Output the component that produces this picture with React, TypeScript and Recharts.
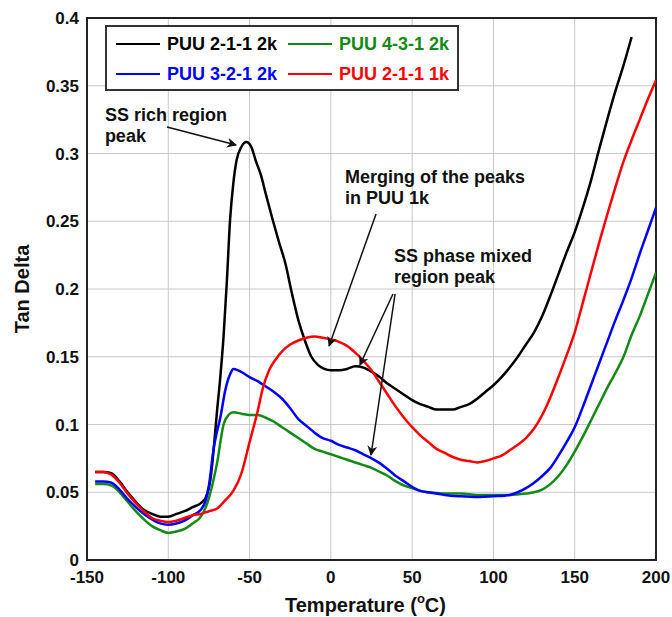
import {
  LineChart,
  Line,
  XAxis,
  YAxis,
  CartesianGrid,
  ReferenceLine,
  ReferenceDot,
  ReferenceArea,
} from 'recharts';

// temperature (°C) and tan delta for each sample
const puu211_2kT = [-145, -140, -135, -130, -125, -120, -115, -110, -105, -100, -95, -90, -85, -80, -77, -74, -72, -70, -68, -66, -64, -62, -60, -58, -55, -52, -49, -46, -43, -40, -36, -32, -28, -24, -20, -16, -12, -8, -4, 0, 5, 10, 15, 20, 25, 30, 35, 40, 45, 50, 55, 60, 65, 70, 75, 80, 85, 90, 95, 100, 105, 110, 115, 120, 125, 130, 135, 140, 145, 150, 155, 160, 165, 170, 175, 180, 185];
const puu211_2kV = [0.065, 0.065, 0.064, 0.058, 0.05, 0.043, 0.037, 0.034, 0.032, 0.032, 0.034, 0.036, 0.039, 0.042, 0.046, 0.06, 0.083, 0.11, 0.135, 0.165, 0.205, 0.251, 0.278, 0.295, 0.305, 0.3085, 0.305, 0.294, 0.284, 0.27, 0.252, 0.235, 0.219, 0.197, 0.177, 0.162, 0.15, 0.144, 0.141, 0.14, 0.14, 0.141, 0.143, 0.142, 0.139, 0.135, 0.13, 0.126, 0.122, 0.118, 0.115, 0.113, 0.111, 0.111, 0.111, 0.113, 0.115, 0.119, 0.124, 0.129, 0.135, 0.142, 0.15, 0.159, 0.168, 0.18, 0.195, 0.211, 0.227, 0.242, 0.26, 0.28, 0.303, 0.325, 0.346, 0.365, 0.386];

const puu211_1kT = [-145, -140, -135, -130, -125, -120, -115, -110, -105, -100, -95, -90, -85, -80, -75, -70, -65, -60, -55, -50, -45, -42, -38, -34, -30, -25, -20, -15, -10, -5, 0, 5, 10, 15, 20, 25, 30, 35, 40, 45, 50, 55, 60, 65, 70, 75, 80, 85, 90, 95, 100, 105, 110, 115, 120, 125, 130, 135, 140, 145, 150, 155, 160, 165, 170, 175, 180, 185, 190, 195, 200];
const puu211_1kV = [0.065, 0.065, 0.063, 0.057, 0.049, 0.042, 0.036, 0.031, 0.029, 0.028, 0.029, 0.031, 0.033, 0.034, 0.036, 0.038, 0.044, 0.051, 0.064, 0.087, 0.11, 0.126, 0.14, 0.148, 0.154, 0.159, 0.162, 0.164, 0.165, 0.164, 0.163, 0.161, 0.158, 0.153, 0.147, 0.14, 0.131, 0.122, 0.113, 0.105, 0.098, 0.092, 0.087, 0.082, 0.079, 0.076, 0.074, 0.073, 0.072, 0.073, 0.075, 0.077, 0.081, 0.085, 0.09, 0.097, 0.107, 0.12, 0.135, 0.151, 0.168, 0.19, 0.212, 0.234, 0.255, 0.275, 0.294, 0.31, 0.325, 0.34, 0.354];

const puu321_2kT = [-145, -140, -135, -130, -125, -120, -115, -110, -105, -100, -95, -90, -85, -80, -77, -75, -72, -70, -68, -65, -62, -60, -57, -54, -50, -45, -40, -35, -30, -25, -20, -15, -10, -5, 0, 5, 10, 15, 20, 25, 30, 35, 40, 45, 50, 55, 60, 65, 70, 80, 90, 100, 110, 115, 120, 125, 130, 135, 140, 145, 150, 155, 160, 165, 170, 175, 180, 185, 190, 195, 200];
const puu321_2kV = [0.058, 0.058, 0.057, 0.052, 0.045, 0.039, 0.034, 0.03, 0.027, 0.026, 0.027, 0.029, 0.033, 0.037, 0.044, 0.055, 0.083, 0.095, 0.105, 0.125, 0.137, 0.141, 0.14, 0.138, 0.135, 0.132, 0.128, 0.124, 0.119, 0.112, 0.104, 0.099, 0.094, 0.09, 0.088, 0.085, 0.083, 0.081, 0.078, 0.075, 0.0715, 0.067, 0.062, 0.058, 0.054, 0.051, 0.05, 0.049, 0.048, 0.047, 0.0465, 0.047, 0.048, 0.05, 0.053, 0.057, 0.062, 0.068, 0.077, 0.087, 0.098, 0.113, 0.129, 0.145, 0.161, 0.177, 0.192, 0.208, 0.226, 0.243, 0.26];

const puu431_2kT = [-145, -140, -135, -130, -125, -120, -115, -110, -105, -100, -95, -90, -85, -80, -76, -73, -70, -66, -63, -60, -55, -50, -45, -40, -35, -30, -25, -20, -15, -10, -5, 0, 5, 10, 15, 20, 25, 30, 35, 40, 45, 50, 55, 60, 65, 70, 80, 90, 100, 110, 120, 125, 130, 135, 140, 145, 150, 155, 160, 165, 170, 175, 180, 185, 190, 195, 200];
const puu431_2kV = [0.056, 0.056, 0.055, 0.05, 0.043, 0.036, 0.03, 0.025, 0.022, 0.02, 0.021, 0.023, 0.027, 0.032, 0.042, 0.055, 0.0715, 0.1, 0.107, 0.109, 0.108, 0.107, 0.107, 0.105, 0.102, 0.098, 0.094, 0.09, 0.086, 0.082, 0.08, 0.078, 0.076, 0.074, 0.072, 0.07, 0.068, 0.065, 0.062, 0.058, 0.055, 0.053, 0.051, 0.05, 0.0495, 0.049, 0.049, 0.048, 0.048, 0.048, 0.049, 0.05, 0.052, 0.056, 0.062, 0.07, 0.08, 0.091, 0.103, 0.115, 0.127, 0.138, 0.15, 0.166, 0.18, 0.196, 0.212];

const xTicks = [-150, -100, -50, 0, 50, 100, 150, 200];
const yTicks = [0, 0.05, 0.1, 0.15, 0.2, 0.25, 0.3, 0.35, 0.4];

const toPoints = (t: number[], v: number[]) => t.map((x, i) => ({ x, y: v[i] }));

const series = [
  { name: 'PUU 2-1-1 2k', color: '#000000', data: toPoints(puu211_2kT, puu211_2kV) },
  { name: 'PUU 4-3-1 2k', color: '#138a13', data: toPoints(puu431_2kT, puu431_2kV) },
  { name: 'PUU 3-2-1 2k', color: '#0000ff', data: toPoints(puu321_2kT, puu321_2kV) },
  { name: 'PUU 2-1-1 1k', color: '#ff0000', data: toPoints(puu211_1kT, puu211_1kV) },
];

// annotation text anchors and arrows, in data units
const notes = [
  { x: -139, y: 0.324, lines: ['SS rich region', 'peak'] },
  { x: 8.7, y: 0.278, lines: ['Merging of the peaks', 'in PUU 1k'] },
  { x: 38.8, y: 0.22, lines: ['SS phase mixed', 'region peak'] },
];
const arrows = [
  { from: [-100.8, 0.3196], to: [-58.3, 0.3063] },
  { from: [27.8, 0.2554], to: [-1.1, 0.158] },
  { from: [38.2, 0.1963], to: [17.9, 0.1439] },
  { from: [39.5, 0.1963], to: [24.7, 0.0775] },
];

const FONT = '"Liberation Sans", Arial, sans-serif';

const noteContent = (lines: string[]) => (props: any) => {
  const { viewBox } = props;
  return (
    <text x={viewBox.x} y={viewBox.y} fontFamily={FONT} fontWeight="bold" fontSize={18} fill="#111">
      {lines.map((l, i) => (
        <tspan key={i} x={viewBox.x} dy={i === 0 ? 0 : 21}>
          {l}
        </tspan>
      ))}
    </text>
  );
};

const xLabel = (props: any) => {
  const { viewBox } = props;
  return (
    <text
      x={viewBox.x + viewBox.width / 2 - 6}
      y={viewBox.y + 52}
      textAnchor="middle"
      fontFamily={FONT}
      fontWeight="bold"
      fontSize={20}
      fill="#111"
    >
      Temperature (
      <tspan fontSize={13} dy={-9}>o</tspan>
      <tspan dy={9}>C)</tspan>
    </text>
  );
};

const yLabel = (props: any) => {
  const { viewBox } = props;
  const cx = viewBox.x + 22;
  const cy = viewBox.y + viewBox.height / 2;
  return (
    <text
      x={cx}
      y={cy}
      transform={`rotate(-90, ${cx}, ${cy})`}
      textAnchor="middle"
      dominantBaseline="central"
      fontFamily={FONT}
      fontWeight="bold"
      fontSize={20}
      fill="#111"
    >
      Tan Delta
    </text>
  );
};

const tickStyle = { fontFamily: FONT, fontWeight: 'bold', fontSize: 17, fill: '#111' };

export default function App() {
  return (
    <div style={{ position: 'absolute', left: 0, top: 0, width: 672, height: 617, background: '#fff' }}>
      <svg width={0} height={0} style={{ position: 'absolute' }}>
        <defs>
          <marker
            id="arrowHead"
            viewBox="0 0 10 10"
            refX={9}
            refY={5}
            markerWidth={14}
            markerHeight={10}
            markerUnits="userSpaceOnUse"
            orient="auto"
          >
            <path d="M0,0 L10,5 L0,10 L3,5 z" fill="#111" />
          </marker>
        </defs>
      </svg>
      <LineChart width={672} height={617} margin={{ top: 18, right: 16, bottom: 0, left: 0 }}>
        <CartesianGrid stroke="#c8c8c8" strokeWidth={1} />
        <XAxis
          type="number"
          dataKey="x"
          domain={[-150, 200]}
          ticks={xTicks}
          interval={0}
          height={57}
          tick={tickStyle}
          tickLine={false}
          axisLine={false}
          tickMargin={5}
          label={{ content: xLabel }}
          allowDataOverflow
        />
        <YAxis
          type="number"
          domain={[0, 0.4]}
          ticks={yTicks}
          interval={0}
          width={87}
          tick={tickStyle}
          tickLine={false}
          axisLine={false}
          label={{ content: yLabel }}
          allowDataOverflow
        />
        {series.map((s) => (
          <Line
            key={s.name}
            data={s.data}
            dataKey="y"
            name={s.name}
            type="monotone"
            stroke={s.color}
            strokeWidth={2.5}
            dot={false}
            activeDot={false}
            isAnimationActive={false}
          />
        ))}
        {arrows.map((a, i) => (
          <ReferenceLine
            key={i}
            segment={[
              { x: a.from[0], y: a.from[1] },
              { x: a.to[0], y: a.to[1] },
            ]}
            stroke="#111"
            strokeWidth={1.5}
            markerEnd="url(#arrowHead)"
          />
        ))}
        {notes.map((n, i) => (
          <ReferenceDot
            key={i}
            x={n.x}
            y={n.y}
            r={0}
            stroke="none"
            fill="none"
            label={{ content: noteContent(n.lines) }}
          />
        ))}
        <ReferenceArea x1={-150} x2={200} y1={0} y2={0.4} fill="none" stroke="#222" strokeWidth={2} />
      </LineChart>
      <div
        style={{
          position: 'absolute',
          left: 105,
          top: 25,
          width: 350,
          height: 62,
          border: '2px solid #333',
          background: '#fff',
          fontFamily: FONT,
          fontWeight: 'bold',
          fontSize: 18,
        }}
      >
        {series.map((s, i) => {
          const col = i % 2;
          const row = Math.floor(i / 2);
          return (
            <div
              key={s.name}
              style={{
                position: 'absolute',
                left: col === 0 ? 9 : 181,
                top: row === 0 ? 5 : 35,
                display: 'flex',
                alignItems: 'center',
                color: s.color,
                whiteSpace: 'nowrap',
                height: 24,
              }}
            >
              <span style={{ display: 'inline-block', width: 44, height: 2.5, background: s.color, marginRight: 7 }} />
              {s.name}
            </div>
          );
        })}
      </div>
    </div>
  );
}
